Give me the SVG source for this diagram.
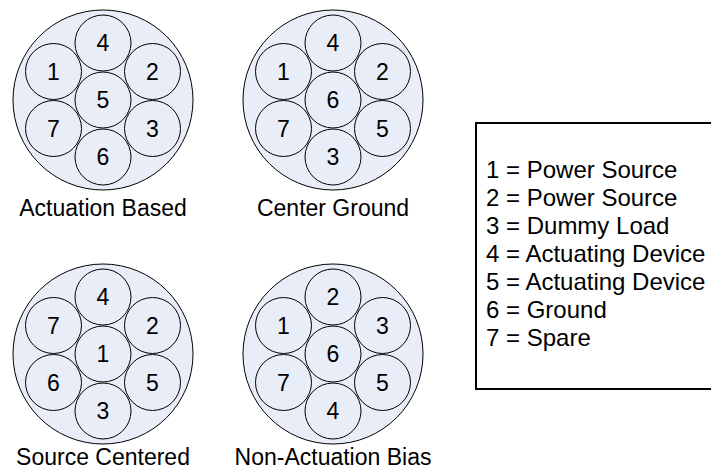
<svg xmlns="http://www.w3.org/2000/svg" width="711" height="469" viewBox="0 0 711 469">
  <style>
    text { font-family: "Liberation Sans", Arial, sans-serif; fill: #000; }
    .shell { fill: #e8edf7; stroke: #000; stroke-width: 1; }
    .pin { fill: #e8edf7; stroke: #000; stroke-width: 1; }
    .num { font-size: 23px; text-anchor: middle; }
    .cap { font-size: 23px; text-anchor: middle; }
    .key { font-size: 24px; }
    .box { fill: #fff; stroke: #000; stroke-width: 2; }
  </style>
  <defs>
    <!-- one pin: circle at origin, label drawn separately -->
    <circle id="pinShape" r="28" class="pin"/>
  </defs>

  <!-- Connector A: Actuation Based -->
  <g id="actuation-based" transform="translate(103,100)">
    <circle class="shell" r="90"/>
    <g id="ab-4"><use href="#pinShape" x="0" y="-57"/><text class="num" x="0" y="-49">4</text></g>
    <g id="ab-1"><use href="#pinShape" x="-49.5" y="-28.5"/><text class="num" x="-49.5" y="-20.5">1</text></g>
    <g id="ab-2"><use href="#pinShape" x="49.5" y="-28.5"/><text class="num" x="49.5" y="-20.5">2</text></g>
    <g id="ab-7"><use href="#pinShape" x="-49.5" y="28.5"/><text class="num" x="-49.5" y="36.5">7</text></g>
    <g id="ab-3"><use href="#pinShape" x="49.5" y="28.5"/><text class="num" x="49.5" y="36.5">3</text></g>
    <g id="ab-6"><use href="#pinShape" x="0" y="57"/><text class="num" x="0" y="65">6</text></g>
    <g id="ab-5"><use href="#pinShape" x="0" y="0"/><text class="num" x="0" y="8">5</text></g>
    <text class="cap" x="0" y="116">Actuation Based</text>
  </g>

  <!-- Connector B: Center Ground -->
  <g id="center-ground" transform="translate(333,100)">
    <circle class="shell" r="90"/>
    <g id="cg-4"><use href="#pinShape" x="0" y="-57"/><text class="num" x="0" y="-49">4</text></g>
    <g id="cg-1"><use href="#pinShape" x="-49.5" y="-28.5"/><text class="num" x="-49.5" y="-20.5">1</text></g>
    <g id="cg-2"><use href="#pinShape" x="49.5" y="-28.5"/><text class="num" x="49.5" y="-20.5">2</text></g>
    <g id="cg-7"><use href="#pinShape" x="-49.5" y="28.5"/><text class="num" x="-49.5" y="36.5">7</text></g>
    <g id="cg-5"><use href="#pinShape" x="49.5" y="28.5"/><text class="num" x="49.5" y="36.5">5</text></g>
    <g id="cg-3"><use href="#pinShape" x="0" y="57"/><text class="num" x="0" y="65">3</text></g>
    <g id="cg-6"><use href="#pinShape" x="0" y="0"/><text class="num" x="0" y="8">6</text></g>
    <text class="cap" x="0" y="116">Center Ground</text>
  </g>

  <!-- Connector C: Source Centered -->
  <g id="source-centered" transform="translate(103,354)">
    <circle class="shell" r="90"/>
    <g id="sc-4"><use href="#pinShape" x="0" y="-57"/><text class="num" x="0" y="-49">4</text></g>
    <g id="sc-7"><use href="#pinShape" x="-49.5" y="-28.5"/><text class="num" x="-49.5" y="-20.5">7</text></g>
    <g id="sc-2"><use href="#pinShape" x="49.5" y="-28.5"/><text class="num" x="49.5" y="-20.5">2</text></g>
    <g id="sc-6"><use href="#pinShape" x="-49.5" y="28.5"/><text class="num" x="-49.5" y="36.5">6</text></g>
    <g id="sc-5"><use href="#pinShape" x="49.5" y="28.5"/><text class="num" x="49.5" y="36.5">5</text></g>
    <g id="sc-3"><use href="#pinShape" x="0" y="57"/><text class="num" x="0" y="65">3</text></g>
    <g id="sc-1"><use href="#pinShape" x="0" y="0"/><text class="num" x="0" y="8">1</text></g>
    <text class="cap" x="0" y="111">Source Centered</text>
  </g>

  <!-- Connector D: Non-Actuation Bias -->
  <g id="non-actuation-bias" transform="translate(333,354)">
    <circle class="shell" r="90"/>
    <g id="nb-2"><use href="#pinShape" x="0" y="-57"/><text class="num" x="0" y="-49">2</text></g>
    <g id="nb-1"><use href="#pinShape" x="-49.5" y="-28.5"/><text class="num" x="-49.5" y="-20.5">1</text></g>
    <g id="nb-3"><use href="#pinShape" x="49.5" y="-28.5"/><text class="num" x="49.5" y="-20.5">3</text></g>
    <g id="nb-7"><use href="#pinShape" x="-49.5" y="28.5"/><text class="num" x="-49.5" y="36.5">7</text></g>
    <g id="nb-5"><use href="#pinShape" x="49.5" y="28.5"/><text class="num" x="49.5" y="36.5">5</text></g>
    <g id="nb-4"><use href="#pinShape" x="0" y="57"/><text class="num" x="0" y="65">4</text></g>
    <g id="nb-6"><use href="#pinShape" x="0" y="0"/><text class="num" x="0" y="8">6</text></g>
    <text class="cap" x="0" y="111">Non-Actuation Bias</text>
  </g>

  <!-- Pin function key -->
  <g id="legend">
    <rect class="box" x="476" y="123" width="245" height="266"/>
    <text class="key" x="486" y="178">1 = Power Source</text>
    <text class="key" x="486" y="206">2 = Power Source</text>
    <text class="key" x="486" y="234">3 = Dummy Load</text>
    <text class="key" x="486" y="262">4 = Actuating Device</text>
    <text class="key" x="486" y="290">5 = Actuating Device</text>
    <text class="key" x="486" y="318">6 = Ground</text>
    <text class="key" x="486" y="346">7 = Spare</text>
  </g>
</svg>
